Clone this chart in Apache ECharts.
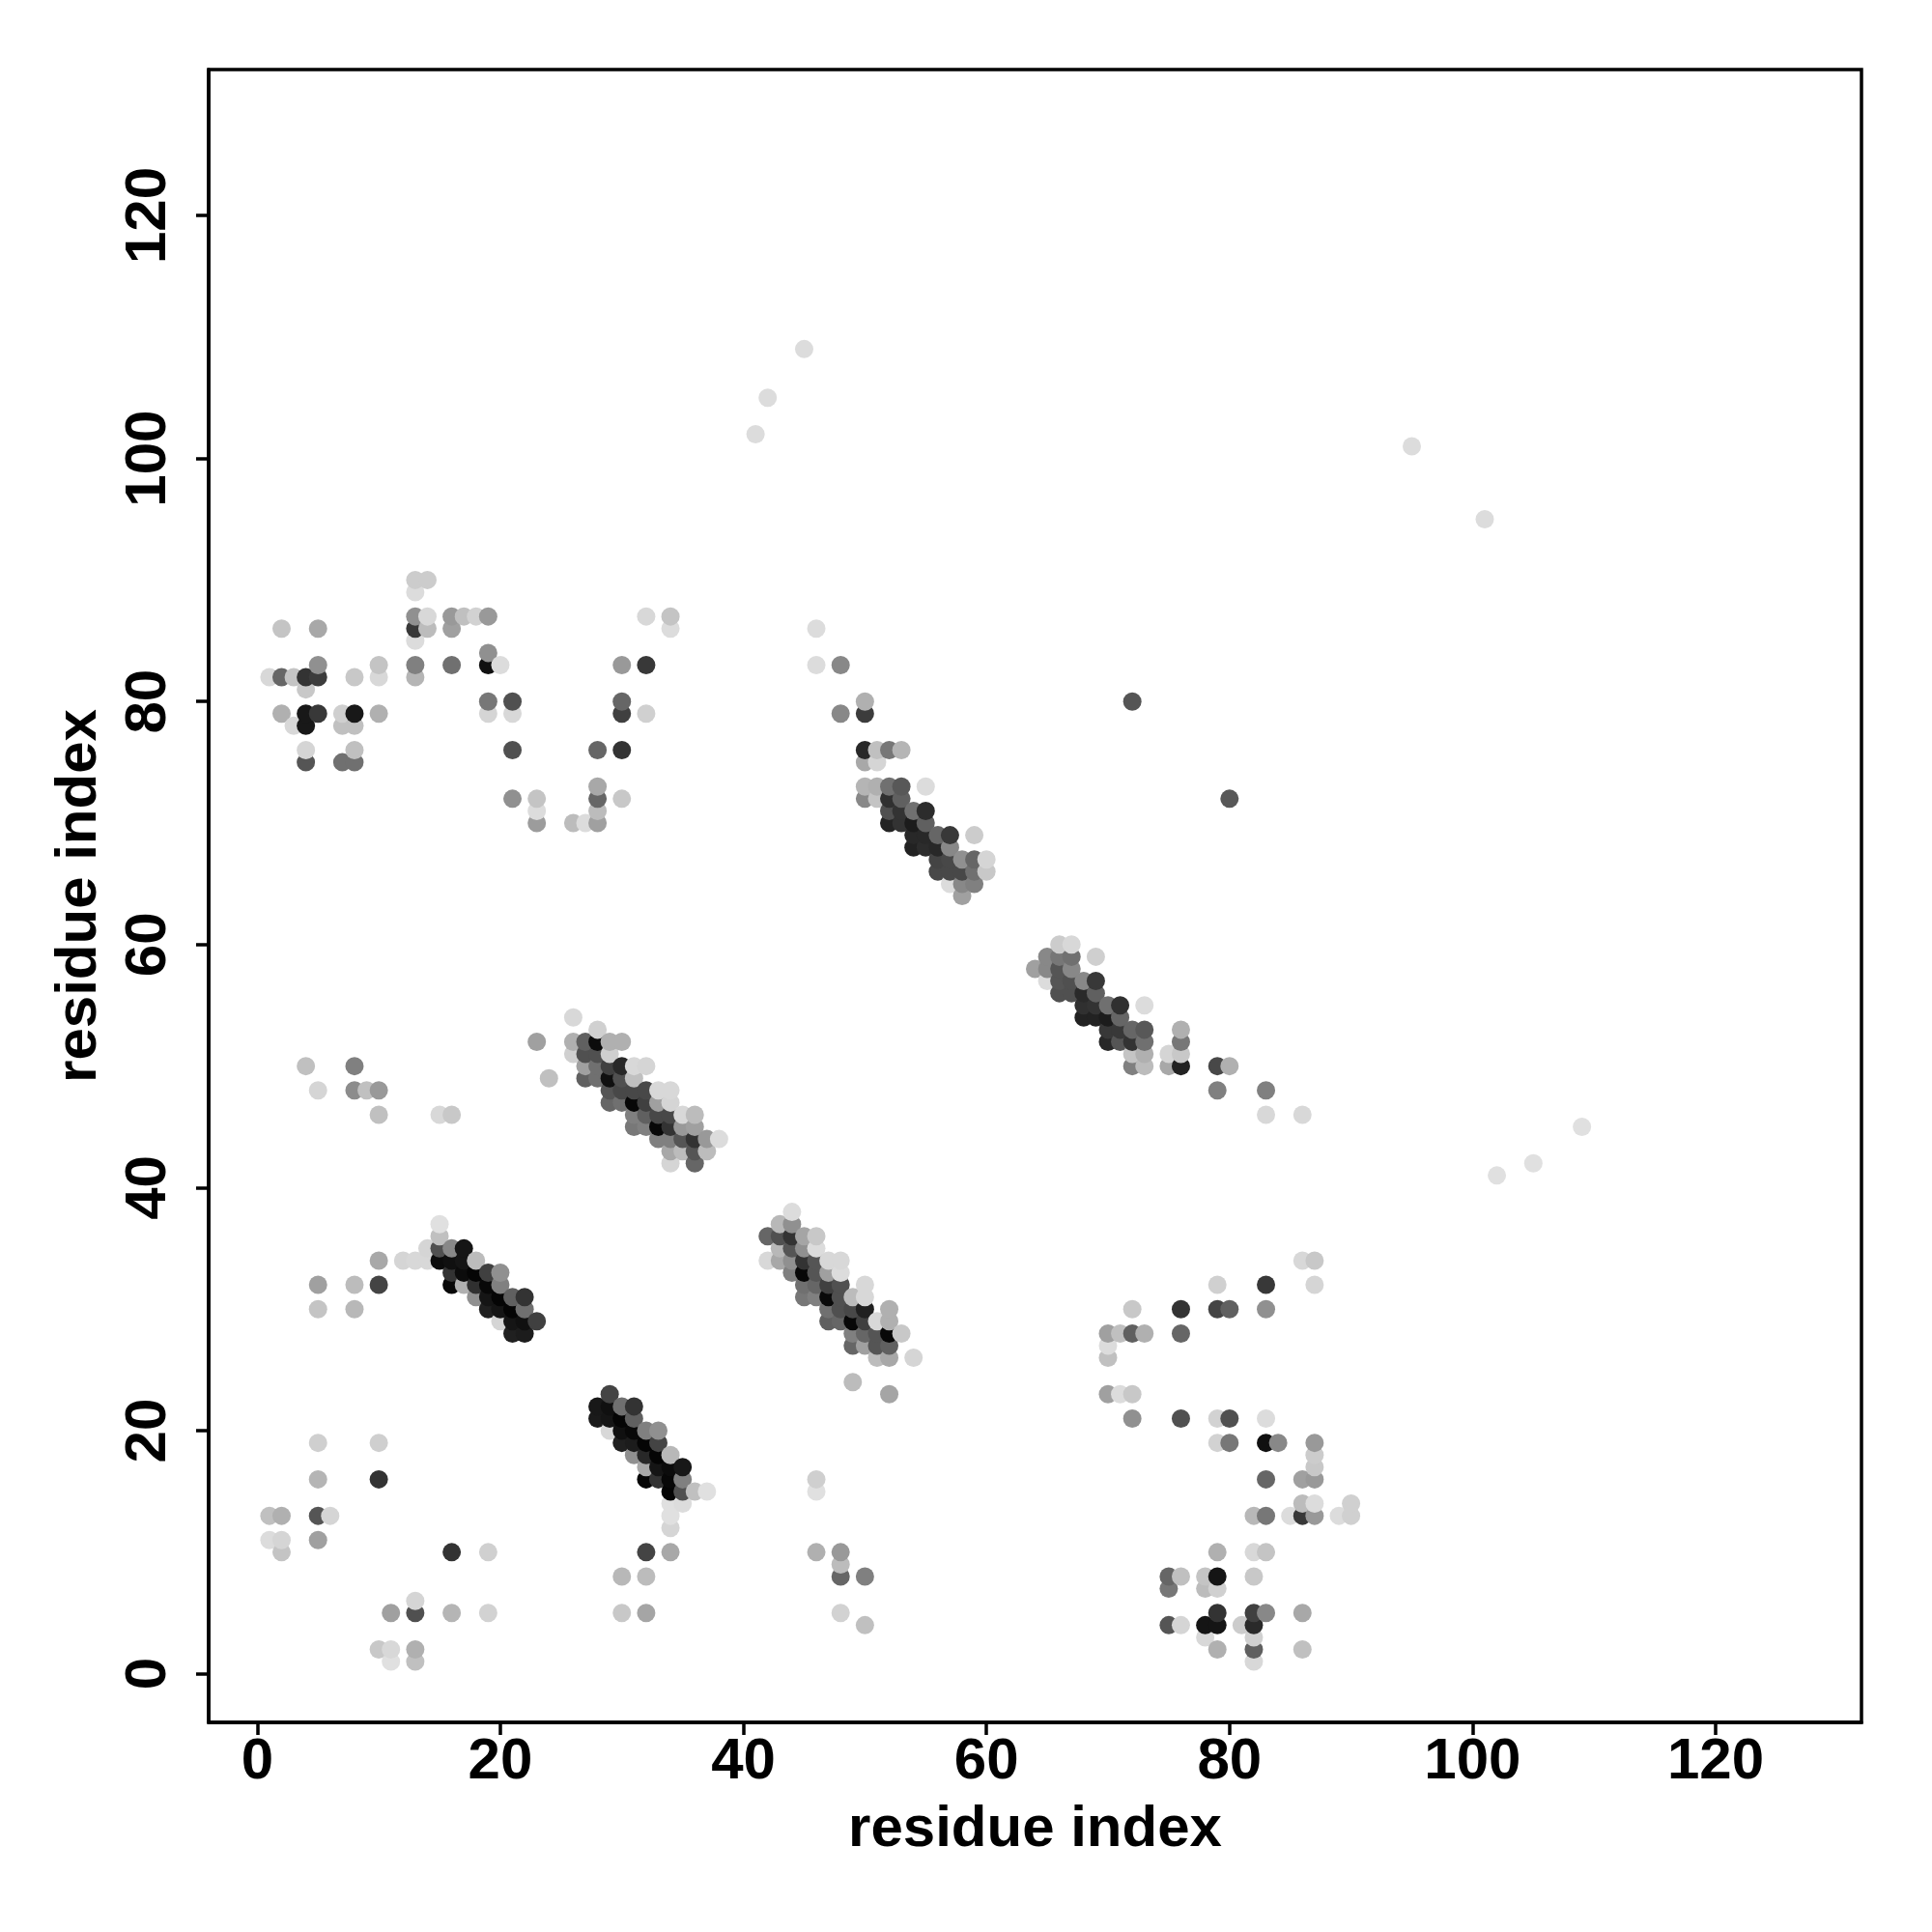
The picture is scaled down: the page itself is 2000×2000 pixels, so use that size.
<!DOCTYPE html>
<html>
<head>
<meta charset="utf-8">
<style>html,body{margin:0;padding:0;background:#fff}#c{width:2000px;height:2000px}</style>
<script src="https://cdn.jsdelivr.net/npm/echarts@6/dist/echarts.min.js"></script>
</head>
<body>
<div id="c"></div>
<script>
// Each contact: [residue x, residue y, grey level 0..255]
const xTickValues = [0, 20, 40, 60, 80, 100, 120];
const yTickValues = [0, 20, 40, 60, 80, 100, 120];
const xAxisTitle = 'residue index';
const yAxisTitle = 'residue index';

const lowerLeft = [
[5,19,0xcf],[10,19,0xcf],[5,16,0xb5],[10,16,0x33],[1,13,0xc0],[2,13,0xb0],[5,13,0x55],[6,13,0xd5],
[1,11,0xdc],[2,11,0xd5],[2,10,0xc4],[5,11,0xa0],[16,10,0x33],[19,10,0xd0],[11,5,0xa0],[13,5,0x50],
[13,6,0xd5],[16,5,0xb5],[19,5,0xd2],[10,2,0xc8],[11,2,0xd8],[11,1,0xe0],[13,2,0xb0],[13,1,0xc0]];

const lowerMiddle = [
[32,10,0x44],[34,10,0xa8],[30,8,0xb8],[32,8,0xbc],[30,5,0xc8],[32,5,0xa5],[46,10,0xb0],[48,10,0x99],
[48,9,0xbc],[48,8,0x66],[50,8,0x80],[48,5,0xd2],[50,4,0xc0],[46,16,0xcf],[46,15,0xe0],[49,24,0xbc],[52,23,0xa5]];

const diagonalA = [
[29,23,0x44],[28,22,0x18],[29,22,0x10],[30,22,0x70],[31,22,0x33],[28,21,0x1a],[29,21,0x15],[30,21,0x05],[31,21,0x60],
[29,20,0xd8],[30,20,0x10],[31,20,0x08],[32,20,0x80],[33,20,0x90],[30,19,0x20],[31,19,0x1c],[32,19,0x05],[33,19,0x44],
[31,18,0x90],[32,18,0x28],[33,18,0x05],[34,18,0xb8],[32,17,0xa8],[33,17,0x15],[34,17,0x0c],[35,17,0x18],
[32,16,0x05],[33,16,0x33],[34,16,0x08],[35,16,0x80],[34,15,0x05],[35,15,0x50],[36,15,0xc0],[37,15,0xe0],
[34,14,0xe0],[35,14,0xdc],[34,13,0xe0],[34,12,0xd5]];

const diagonalB = [
[5,32,0xa0],[5,30,0xc4],[8,32,0xbc],[8,30,0xb8],[10,34,0xa8],[10,32,0x44],[12,34,0xd5],[13,34,0xd8],[14,34,0xd8],[14,35,0xd5],
[15,37,0xe0],[15,36,0xc0],[15,35,0x50],[15,34,0x0c],[16,35,0x88],[16,34,0x10],[16,33,0x33],[16,32,0x08],
[17,35,0x15],[17,34,0x15],[17,33,0x0c],[17,32,0xb0],[18,34,0xbc],[18,33,0x05],[18,32,0x30],[18,31,0x90],
[19,33,0x40],[19,32,0x08],[19,31,0x15],[19,30,0x20],[20,33,0x90],[20,32,0x80],[20,31,0x05],[20,30,0x15],[20,29,0xd5],
[21,31,0x60],[21,30,0x05],[21,29,0x15],[21,28,0x20],[22,31,0x33],[22,30,0x70],[22,29,0x10],[22,28,0x1c],[23,29,0x40]];

const diagonalC = [
[23,52,0xa0],[24,49,0xc0],[26,54,0xd8],[26,52,0xb0],[26,51,0xd0],[27,52,0x60],[27,51,0x50],[27,50,0xa0],[27,49,0x60],
[28,53,0xd0],[28,52,0x0c],[28,51,0x50],[28,50,0x70],[28,49,0x70],[29,52,0xb0],[29,51,0xcf],[29,50,0x40],[29,49,0x10],[29,48,0x55],[29,47,0x66],
[30,52,0xb0],[30,50,0x28],[30,49,0x50],[30,48,0x48],[30,47,0x70],[31,50,0xd8],[31,49,0xc0],[31,48,0x48],[31,47,0x08],[31,46,0x80],[31,45,0x78],
[32,50,0xd5],[32,48,0x48],[32,47,0x40],[32,46,0x60],[32,45,0x80],[33,48,0xd8],[33,47,0xa0],[33,46,0x48],[33,45,0x08],[33,44,0x80],
[34,48,0xd8],[34,47,0xd5],[34,46,0x48],[34,45,0x33],[34,44,0x80],[34,43,0xa8],[34,42,0xd5],[35,46,0xd8],[35,45,0x99],[35,44,0x55],[35,43,0xbc],
[36,46,0xbc],[36,45,0xa0],[36,44,0x33],[36,43,0x55],[36,42,0x66],[37,44,0x99],[37,43,0xbc],[38,44,0xdc]];

const diagonalD = [
[42,36,0x66],[42,34,0xd8],[43,37,0xb8],[43,36,0x50],[43,35,0xb8],[43,34,0xa8],[44,38,0xdc],[44,37,0x90],[44,36,0x33],[44,35,0x55],[44,34,0x90],[44,33,0x80],
[45,36,0xa5],[45,35,0x90],[45,34,0x33],[45,33,0x08],[45,32,0x70],[45,31,0x77],[46,36,0xc8],[46,35,0xdc],[46,34,0x55],[46,33,0x55],[46,32,0x66],[46,31,0x80],
[47,34,0xd8],[47,33,0xa0],[47,32,0x40],[47,31,0x0a],[47,30,0x70],[47,29,0x60],[48,34,0xd8],[48,33,0xdc],[48,32,0x50],[48,31,0x50],[48,30,0x50],[48,29,0x66],
[49,31,0xbc],[49,30,0x48],[49,29,0x08],[49,28,0x80],[49,27,0x66],[50,32,0xd8],[50,31,0xd8],[50,30,0x20],[50,29,0x40],[50,28,0x66],[50,27,0xa0],
[51,29,0xd8],[51,28,0x55],[51,27,0x55],[51,26,0xbc],[52,30,0xb0],[52,29,0xb0],[52,28,0x08],[52,27,0x60],[52,26,0xa8],[53,28,0xc8],[54,26,0xd5]];

const diagonalE = [
[50,76,0x28],[51,76,0xc0],[52,76,0x77],[53,76,0xb5],[50,75,0xa8],[51,75,0xd5],[50,73,0xb5],[51,73,0xb0],[52,73,0x70],[53,73,0x58],[55,73,0xdc],
[50,72,0x88],[51,72,0xc4],[52,72,0x30],[53,72,0x60],[52,71,0x50],[53,71,0x33],[54,71,0x70],[55,71,0x2c],[52,70,0x24],[53,70,0x33],[54,70,0x1c],[55,70,0x60],
[54,69,0x28],[55,69,0x28],[56,69,0x66],[57,69,0x38],[59,69,0xcc],[54,68,0x22],[55,68,0x2c],[56,68,0x28],[57,68,0x88],
[56,67,0x44],[57,67,0x48],[58,67,0x90],[59,67,0x66],[60,67,0xd5],[56,66,0x48],[57,66,0x48],[58,66,0x48],[59,66,0x70],[60,66,0xc8],
[57,65,0xdc],[58,65,0x88],[59,65,0x80],[58,64,0xa0]];

const upperMiddle = [
[32,87,0xd8],[34,87,0xc4],[34,86,0xdc],[46,86,0xdc],[20,83,0xdc],[30,83,0x99],[32,83,0x38],[46,83,0xdc],[48,83,0x88],
[30,80,0x66],[30,79,0x40],[32,79,0xd0],[48,79,0x88],[50,80,0xb0],[50,79,0x3c],[28,76,0x66],[30,76,0x33],
[23,72,0xc4],[23,71,0xdc],[23,70,0x9c],[26,70,0xbc],[27,70,0xdc],[28,73,0xa8],[28,72,0x66],[28,71,0xbc],[28,70,0xa0],[30,72,0xc8]];

const upperLeft = [
[13,90,0xcc],[14,90,0xcc],[13,89,0xdc],[13,87,0x90],[14,87,0xd8],[16,87,0x99],[17,87,0xc0],[18,87,0xd2],[19,87,0x99],
[13,86,0x38],[14,86,0xbc],[16,86,0xa0],[13,85,0xdc],[2,86,0xc4],[5,86,0xa8],[5,83,0x90],[10,83,0xc4],[13,83,0x80],[16,83,0x70],[19,83,0x10],[19,84,0x90],
[1,82,0xd8],[2,82,0x66],[3,82,0xc4],[4,82,0x33],[5,82,0x3c],[8,82,0xc8],[10,82,0xd8],[13,82,0xb5],[4,81,0xc8],
[2,79,0xb0],[3,78,0xd8],[4,79,0x18],[4,78,0x18],[5,79,0x38],[7,79,0xcf],[8,79,0x18],[7,78,0xc0],[8,78,0xc0],[10,79,0xb0],
[4,76,0xd5],[4,75,0x55],[7,75,0x70],[8,76,0xc0],[8,75,0x70],[19,80,0x77],[19,79,0xd5],[21,80,0x50],[21,79,0xd8],[21,76,0x50],[21,72,0x90]];

const midLeft = [
[4,50,0xc0],[5,48,0xd5],[8,50,0x80],[8,48,0x8c],[9,48,0xc0],[10,48,0x99],[10,46,0xc0],[15,46,0xd8],[16,46,0xc8]];

const lowerRight = [
[70,28,0xa0],[71,28,0xc0],[72,28,0x60],[73,28,0xb0],[76,28,0x66],[70,27,0xdc],[70,26,0xc0],[70,23,0xa0],[71,23,0xdc],[72,23,0xc8],
[72,21,0x90],[76,21,0x50],[79,21,0xd2],[80,21,0x50],[83,21,0xdc],[79,19,0xd2],[80,19,0x77],[83,19,0x10],[84,19,0x88],[87,19,0x99],[87,18,0xcc],[87,17,0xc8],
[83,16,0x66],[86,16,0xa0],[87,16,0x99],[82,13,0xb8],[83,13,0x77],[85,13,0xdc],[86,13,0x38],[87,13,0x99],[89,13,0xdc],[90,13,0xd0],[86,14,0xbc],[87,14,0xdc],[90,14,0xd0],
[79,10,0xb0],[82,10,0xd8],[83,10,0xc4],[75,8,0x66],[76,8,0xc0],[75,7,0x77],[78,8,0xc4],[79,8,0x15],[78,7,0xbc],[79,7,0xd0],[82,8,0xc8],
[75,4,0x55],[76,4,0xd5],[79,5,0x33],[78,4,0x15],[79,4,0x15],[78,3,0xd8],[81,4,0xcc],[82,5,0x40],[82,4,0x2a],[82,3,0xd0],[82,2,0x60],[82,1,0xd8],[83,5,0x88],[79,2,0xb0],[86,5,0xa8],[86,2,0xc0]];

const midRight = [
[86,34,0xd8],[87,34,0xc8],[87,32,0xd5],[83,32,0x38],[79,32,0xd0],[83,30,0x90],[79,30,0x44],[80,30,0x60],[76,30,0x33],[72,30,0xc8]];

const diagonalF = [
[66,60,0xcc],[67,60,0xd8],[65,59,0x88],[66,59,0x77],[67,59,0x70],[69,59,0xcf],[64,58,0xa0],[65,58,0x88],[66,58,0x55],[67,58,0x88],
[65,57,0xdc],[66,57,0x55],[67,57,0x50],[68,57,0x88],[69,57,0x38],[66,56,0x50],[67,56,0x50],[68,56,0x2a],[69,56,0x60],
[68,55,0x30],[69,55,0x33],[70,55,0x70],[71,55,0x30],[73,55,0xdc],[68,54,0x22],[69,54,0x22],[70,54,0x1c],[71,54,0x66],
[70,53,0x38],[71,53,0x38],[72,53,0x66],[73,53,0x58],[76,53,0xb0],[70,52,0x28],[71,52,0x55],[72,52,0x33],[73,52,0x70],[76,52,0x77],
[72,51,0xc4],[73,51,0xb0],[75,51,0xd5],[76,51,0xc8],[72,50,0x80],[73,50,0xbc],[75,50,0xa8],[76,50,0x22],[79,50,0x48],[80,50,0xb0],[79,48,0x80],[83,48,0x80],[83,46,0xd8],[86,46,0xd8]];

const isolated = [
[41,102,0xdc],[42,105,0xdc],[45,109,0xdc],[95,101,0xdc],[101,95,0xdc],[72,80,0x55],[80,72,0x58],[102,41,0xe0],[105,42,0xe0],[109,45,0xe0]];

const contacts = [].concat(lowerLeft, lowerMiddle, diagonalA, diagonalB, diagonalC, diagonalD, diagonalE,
  upperMiddle, upperLeft, midLeft, lowerRight, midRight, diagonalF, isolated)
  .sort((a, b) => a[0] - b[0] || a[1] - b[1]);

const FONT = '"Liberation Sans", Arial, sans-serif';
const axisCommon = {
  type: 'value', min: -4, max: 132,
  axisLine: { show: true, onZero: false, lineStyle: { color: '#000', width: 3.5 } },
  axisTick: { show: true, length: 13, lineStyle: { color: '#000', width: 3.5 } },
  splitLine: { show: false }
};

const chart = echarts.init(document.getElementById('c'), null, { renderer: 'canvas' });
chart.setOption({
  animation: false,
  backgroundColor: '#fff',
  grid: { left: 216, top: 72, width: 1711, height: 1711, show: true, backgroundColor: 'transparent', borderColor: '#000', borderWidth: 3.5 },
  xAxis: Object.assign({}, axisCommon, {
    name: xAxisTitle, nameLocation: 'middle', nameGap: 81,
    nameTextStyle: { fontFamily: FONT, fontWeight: 'bold', fontSize: 60, color: '#000' },
    axisTick: Object.assign({}, axisCommon.axisTick, { customValues: xTickValues }),
    axisLabel: { customValues: xTickValues, margin: 11, fontFamily: FONT, fontWeight: 'bold', fontSize: 60, color: '#000' }
  }),
  yAxis: Object.assign({}, axisCommon, {
    name: yAxisTitle, nameLocation: 'middle', nameGap: 104,
    nameTextStyle: { fontFamily: FONT, fontWeight: 'bold', fontSize: 60, color: '#000' },
    axisTick: Object.assign({}, axisCommon.axisTick, { customValues: yTickValues }),
    axisLabel: { customValues: yTickValues, rotate: 90, margin: 62, fontFamily: FONT, fontWeight: 'bold', fontSize: 60, color: '#000', align: 'center', verticalAlign: 'middle' }
  }),
  series: [{
    type: 'scatter',
    data: contacts,
    symbol: 'circle',
    symbolSize: 19,
    large: false,
    itemStyle: {
      opacity: 1,
      color: p => { const g = p.value[2]; return 'rgb(' + g + ',' + g + ',' + g + ')'; }
    }
  }]
});
</script>
</body>
</html>
